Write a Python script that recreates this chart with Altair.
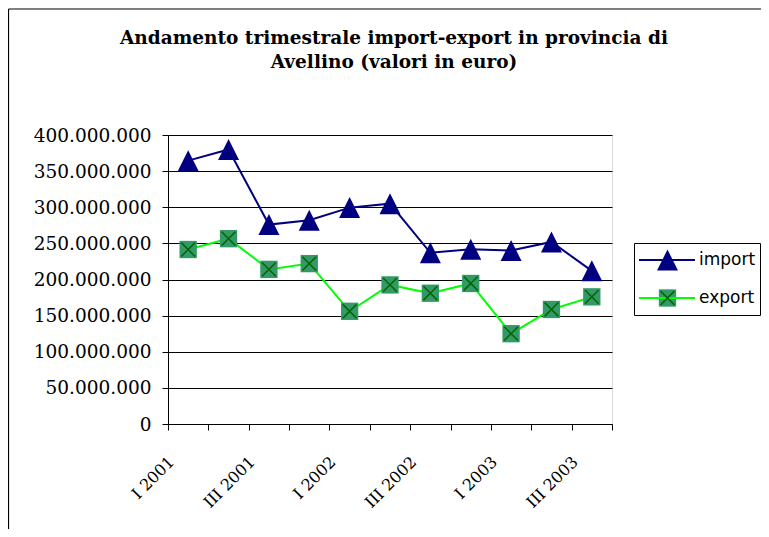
import altair as alt
import pandas as pd

quarters = ["I 2001", "II 2001", "III 2001", "IV 2001", "I 2002", "II 2002",
            "III 2002", "IV 2002", "I 2003", "II 2003", "III 2003"]
import_vals = [364500000, 380000000, 276000000, 282000000, 299500000, 305000000,
               237000000, 242000000, 240000000, 252000000, 212000000]
export_vals = [241500000, 256500000, 214000000, 222000000, 156000000, 192500000,
               181000000, 194500000, 125000000, 158500000, 176000000]
series_names = ["import", "export"]
y_ticks = [0, 50000000, 100000000, 150000000, 200000000, 250000000,
           300000000, 350000000, 400000000]
title_lines = ["Andamento trimestrale import-export in provincia di",
               "Avellino (valori in euro)"]

rows = []
for q, v in zip(quarters, import_vals):
    rows.append({"quarter": q, "series": "import", "value": v})
for q, v in zip(quarters, export_vals):
    rows.append({"quarter": q, "series": "export", "value": v})
df = pd.DataFrame(rows)
df_export = df[df["series"] == "export"]

TRI = "M0,-1L-1,1L1,1Z"
XPATH = "M-1,-1L1,1M-1,1L1,-1"

x_enc = alt.X(
    "quarter:N", sort=quarters,
    scale=alt.Scale(type="band", paddingInner=0, paddingOuter=0),
    axis=alt.Axis(
        title=None, tickBand="extent", labelAngle=-45, labelAlign="right",
        labelBaseline="middle", labelPadding=29, labelOffset=-17,
        tickSize=6, tickColor="black", domainColor="black",
        labelFont="DejaVu Serif", labelFontSize=16, labelColor="black",
        labelOverlap=False, grid=False,
        labelExpr="(slice(datum.label,0,2)=='I ' || slice(datum.label,0,4)=='III ') ? datum.label : ''",
    ),
)
y_enc = alt.Y(
    "value:Q",
    scale=alt.Scale(domain=[0, 400000000], nice=False),
    axis=alt.Axis(
        title=None, values=y_ticks, grid=True, gridColor="black", gridWidth=1,
        gridOpacity=1, tickSize=6, tickColor="black", domainColor="black",
        labelFont="DejaVu Serif", labelFontSize=18.5, labelColor="black",
        labelPadding=11,
        labelExpr="replace(format(datum.value, ','), regexp(',', 'g'), '.')",
    ),
)

lines = alt.Chart(df).mark_line(strokeWidth=2).encode(
    x=x_enc, y=y_enc,
    stroke=alt.Stroke(
        "series:N",
        scale=alt.Scale(domain=series_names, range=["#000080", "#00FF00"]),
        legend=alt.Legend(
            orient="none", legendX=466, legendY=108, title=None,
            symbolType="stroke", symbolSize=3136, symbolStrokeWidth=2,
            labelFont="DejaVu Sans", labelFontSize=17, labelColor="black",
            labelOffset=3, padding=4, rowPadding=12, clipHeight=26,
            strokeColor="black",
        ),
    ),
)

marker_legend = alt.Legend(
    orient="none", legendX=488, legendY=112, title=None,
    labelFont="DejaVu Sans", labelFontSize=17, labelExpr="''",
    padding=0, rowPadding=12, clipHeight=26)

markers = alt.Chart(df).mark_point(filled=True, opacity=1).encode(
    x=x_enc, y=y_enc,
    shape=alt.Shape("series:N", scale=alt.Scale(domain=series_names, range=[TRI, "square"]),
                    legend=marker_legend),
    fill=alt.Fill("series:N", scale=alt.Scale(domain=series_names, range=["#000080", "#339966"]),
                  legend=marker_legend),
    size=alt.Size("series:N", scale=alt.Scale(domain=series_names, range=[441, 300]),
                  legend=marker_legend),
)

crosses = alt.Chart(df_export).mark_point(
    shape=XPATH, size=190, strokeWidth=1.5, filled=False, opacity=1
).encode(
    x=x_enc, y=y_enc,
    stroke=alt.Stroke(
        "series:N",
        scale=alt.Scale(domain=["export"], range=["#006600"]),
        legend=alt.Legend(
            orient="none", legendX=491, legendY=150, title=None,
            symbolType=XPATH, symbolSize=190, symbolStrokeWidth=1.5,
            symbolFillColor="transparent",
            labelFont="DejaVu Sans", labelFontSize=17, labelExpr="''",
            padding=0, clipHeight=26,
        ),
    ),
)

frame_df = pd.DataFrame({"k": [0]})
frame_v = alt.Chart(frame_df).mark_rule(color="black", strokeWidth=1.2).encode(
    x=alt.value(-159.5), y=alt.value(-126), y2=alt.value(400)
)
frame_h = alt.Chart(frame_df).mark_rule(color="black", strokeWidth=1.2).encode(
    x=alt.value(-159.5), x2=alt.value(600), y=alt.value(-126)
)

chart = alt.layer(frame_v, frame_h, lines, markers, crosses).resolve_scale(
    stroke="independent"
).resolve_legend(stroke="independent").properties(
    width=444, height=289,
    title=alt.TitleParams(
        title_lines, font="DejaVu Serif", fontWeight="bold", fontSize=18.5,
        color="black", anchor="middle", frame="group", offset=-63,
        lineHeight=23.5, dx=4,
    ),
    padding={"left": 160, "top": 127, "right": 149, "bottom": 105},
    autosize=alt.AutoSizeParams(type="none"),
).configure_view(stroke="#808080", strokeWidth=1).configure(background="white")

chart.save("out.html", embed_options={"renderer": "svg", "actions": False})
